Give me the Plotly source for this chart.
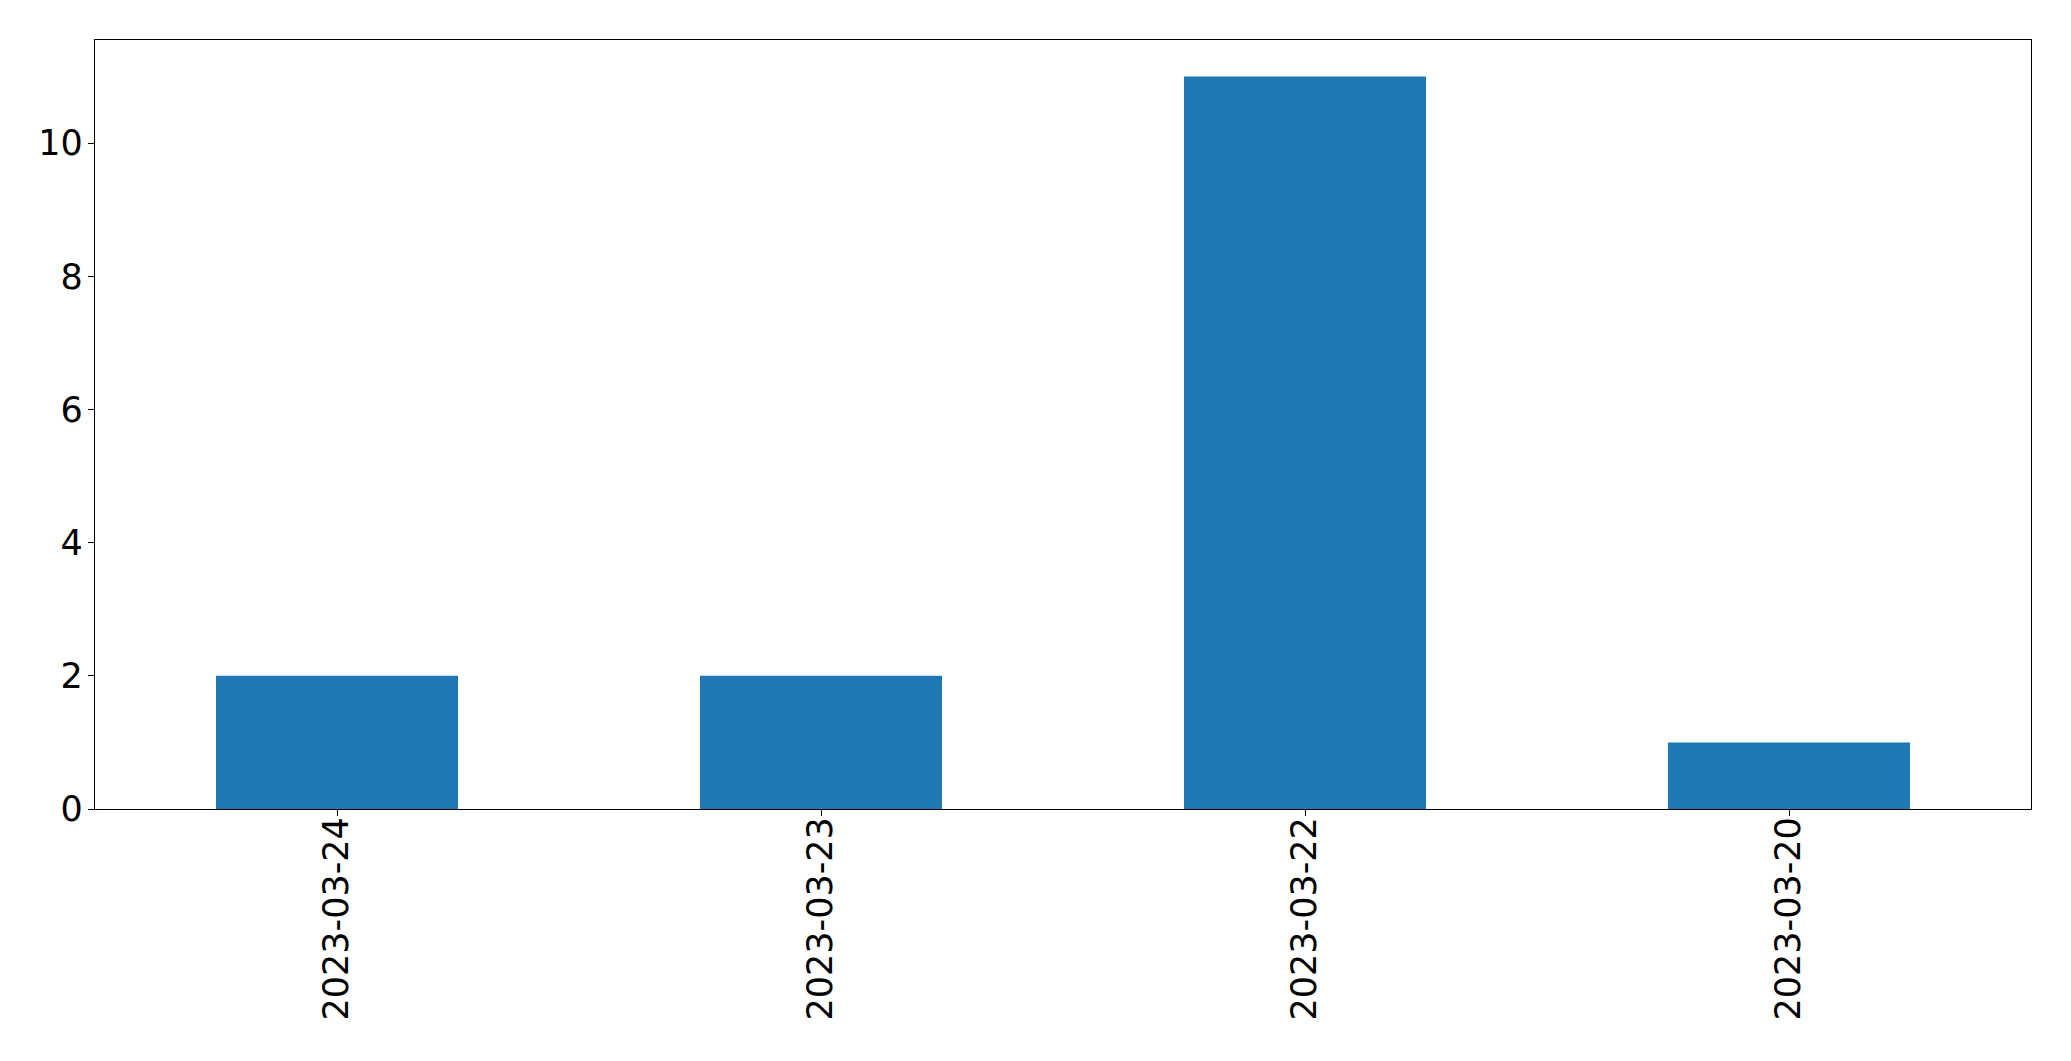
import plotly.graph_objects as go

dates = ["2023-03-24", "2023-03-23", "2023-03-22", "2023-03-20"]
counts = [2, 2, 11, 1]

fig = go.Figure(go.Bar(x=list(range(len(dates))), y=counts, width=0.5,
                       marker=dict(color="#1f77b4", line=dict(width=0))))

axis_common = dict(showgrid=False, zeroline=False, showline=True, linecolor="black",
                   linewidth=1.3, mirror=True, ticks="outside", ticklen=6, tickwidth=1.3,
                   tickcolor="black", tickfont=dict(family="DejaVu Sans", size=35, color="black"))

fig.update_layout(
    width=2063, height=1053,
    margin=dict(l=87, r=40, t=32, b=252, autoexpand=False),
    paper_bgcolor="white", plot_bgcolor="white",
    showlegend=False,
    xaxis=dict(range=[-0.5, 3.5], tickmode="array", tickvals=list(range(len(dates))),
               ticktext=dates, tickangle=-90, ticklabelstandoff=-13, **axis_common),
    yaxis=dict(range=[0, 11.55], tickmode="array", tickvals=[0, 2, 4, 6, 8, 10],
               ticklabelstandoff=-2, **axis_common),
)

fig.write_html("out.html")
